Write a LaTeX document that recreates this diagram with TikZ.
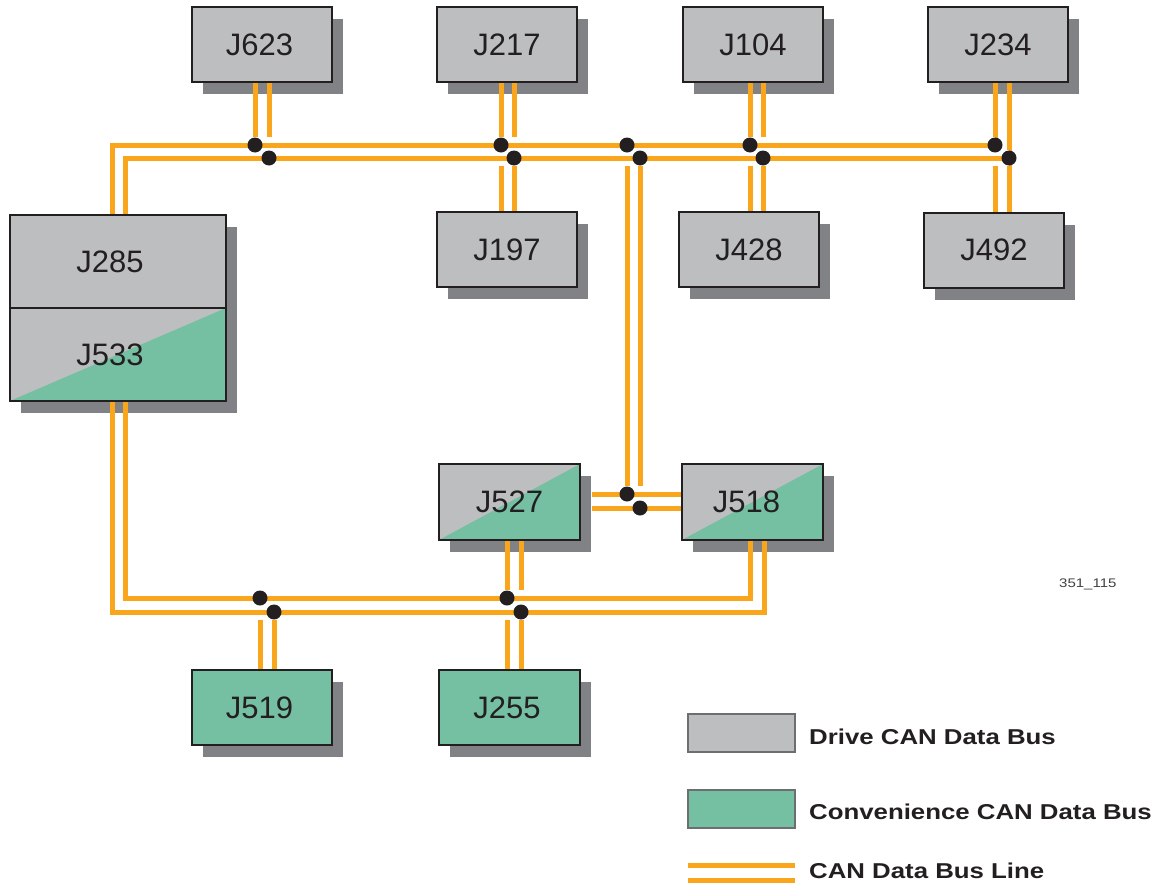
\documentclass[tikz,border=0pt]{standalone}
\usepackage{fontspec}
\setmainfont{Liberation Sans}
\newfontfamily\widefont[FakeStretch=1.2]{Liberation Sans}
\usetikzlibrary{shadows,calc}
\definecolor{boxgray}{HTML}{BCBEC0}
\definecolor{boxgreen}{HTML}{75BFA3}
\definecolor{shade}{HTML}{808285}
\definecolor{busor}{HTML}{F9A61C}
\definecolor{ink}{HTML}{231F20}
\definecolor{legborder}{HTML}{6D6E71}
\begin{document}
\begin{tikzpicture}[x=1pt,y=-1pt,
 ecu/.style={draw=ink, line width=2pt, fill=boxgray, minimum width=140pt, minimum height=75pt, inner sep=0pt, text=ink, font=\fontsize{31}{31}\selectfont, general shadow={fill=shade, shadow xshift=11pt, shadow yshift=-12pt}},
 greenbox/.style={ecu, fill=boxgreen},
 splitbox/.style={ecu, path picture={\fill[boxgreen] (path picture bounding box.south west) -- (path picture bounding box.south east) -- (path picture bounding box.north east) -- cycle;}, postaction={draw=ink, line width=2pt}},
 bus/.style={draw=busor, line width=5pt},
 gap/.style={draw=white, line width=16pt},
 joint/.style={circle, fill=ink, inner sep=0pt, minimum size=15pt},
 legbox/.style={draw=legborder, line width=2.5pt, minimum width=107pt, minimum height=38pt, inner sep=0pt},
 legtext/.style={anchor=base west, inner sep=0pt, text=ink, font=\widefont\bfseries\fontsize{21.5}{22}\selectfont},
]
\useasboundingbox (0,0) rectangle (1162,886);

% ---- boxes
\node[ecu] (J623) at (262,44.5) {J623\hspace*{5pt}};
\node[ecu] (J217) at (507,44.5) {J217};
\node[ecu] (J104) at (753,44.5) {J104};
\node[ecu] (J234) at (998,44.5) {J234};
\node[ecu] (J197) at (507,249.5) {J197};
\node[ecu] (J428) at (749,249.5) {J428};
\node[ecu] (J492) at (994,250) {J492};
\node[ecu, minimum width=216pt, minimum height=93pt] (J285) at (118,261.5) {J285\hspace*{16pt}};
\node[splitbox, minimum width=216pt, minimum height=93pt] (J533) at (118,354.5) {J533\hspace*{16pt}};
\node[splitbox, minimum width=141pt, minimum height=76pt] (J527) at (509.5,502) {J527};
\node[splitbox, minimum width=141pt, minimum height=76pt] (J518) at (752.5,502) {J518\hspace*{12pt}};
\node[greenbox] (J519) at (262,707.5) {J519\hspace*{5pt}};
\node[greenbox, minimum width=141pt] (J255) at (509.5,707.5) {J255\hspace*{5pt}};

% ---- junction coordinates
\coordinate (a1) at (255,145);  \coordinate (a2) at (269,158);
\coordinate (b1) at (501,145);  \coordinate (b2) at (514,158);
\coordinate (c1) at (627,145);  \coordinate (c2) at (640,158);
\coordinate (d1) at (750,145);  \coordinate (d2) at (763,158);
\coordinate (e1) at (995,145);  \coordinate (e2) at (1009,158);
\coordinate (k1) at (112,145);  \coordinate (k2) at (125,158);
\coordinate (m1) at (627,494);  \coordinate (m2) at (640,508);
\coordinate (f1) at (260,598);  \coordinate (f2) at (274,612);
\coordinate (g1) at (507,598);  \coordinate (g2) at (521,612);
\coordinate (q1) at (125,598);  \coordinate (q2) at (112,612);
\coordinate (r1) at (750,598);  \coordinate (r2) at (764,612);
\coordinate (s1) at ($(J527.east |- m1)+(11,0)$);
\coordinate (s2) at ($(J527.east |- m2)+(11,0)$);

% ---- vertical stubs
\draw[bus] (J623.south -| a1) -- (a1);
\draw[bus] (J623.south -| a2) -- (a2);
\draw[bus] (J217.south -| b1) -- (J197.north -| b1);
\draw[bus] (J217.south -| b2) -- (J197.north -| b2);
\draw[bus] (J104.south -| d1) -- (J428.north -| d1);
\draw[bus] (J104.south -| d2) -- (J428.north -| d2);
\draw[bus] (J234.south -| e1) -- (J492.north -| e1);
\draw[bus] (J234.south -| e2) -- (J492.north -| e2);
\draw[bus] (c1) -- (m1);
\draw[bus] (c2) -- (m2);
\draw[bus] (J527.south -| g1) -- (J255.north -| g1);
\draw[bus] (J527.south -| g2) -- (J255.north -| g2);
\draw[bus] (f1) -- (J519.north -| f1);
\draw[bus] (f2) -- (J519.north -| f2);

% ---- gaps where the bus lines cross
\draw[gap] (k1) -- (e1);
\draw[gap] (k2) -- (e2);
\draw[gap] (s1) -- (J518.west |- m1);
\draw[gap] (s2) -- (J518.west |- m2);
\draw[gap] (q1) -- (r1);
\draw[gap] (q2) -- (r2);

% ---- main bus lines
\draw[bus] (J285.north -| k1) -- (k1) -- (e1);
\draw[bus] (J285.north -| k2) -- (k2) -- (e2);
\draw[bus] (s1) -- (J518.west |- m1);
\draw[bus] (s2) -- (J518.west |- m2);
\draw[bus] (J533.south -| q2) -- (q2) -- (r2) -- (J518.south -| r2);
\draw[bus] (J533.south -| q1) -- (q1) -- (r1) -- (J518.south -| r1);

% ---- joints
\foreach \p in {a1,a2,b1,b2,c1,c2,d1,d2,e1,e2,m1,m2,f1,f2,g1,g2}
  \node[joint] (dot\p) at (\p) {};

% ---- figure number
\node[anchor=base west, inner sep=0pt, text=ink!85, font=\widefont\fontsize{12.5}{13}\selectfont] (fignum) at (1059,587) {351\_115};

% ---- legend
\node[legbox, fill=boxgray] (legdrive) at (741.5,733) {};
\node[legbox, fill=boxgreen] (legconv) at (741.5,809) {};
\coordinate (lineA1) at (688,865); \coordinate (lineA2) at (795,865);
\coordinate (lineB1) at (688,880); \coordinate (lineB2) at (795,880);
\draw[bus] (lineA1) -- (lineA2);
\draw[bus] (lineB1) -- (lineB2);
\node[legtext] (legt1) at (809,744) {Drive CAN Data Bus};
\node[legtext] (legt2) at (809,819) {Convenience CAN Data Bus};
\node[legtext] (legt3) at (809,878) {CAN Data Bus Line};
\end{tikzpicture}
\end{document}
